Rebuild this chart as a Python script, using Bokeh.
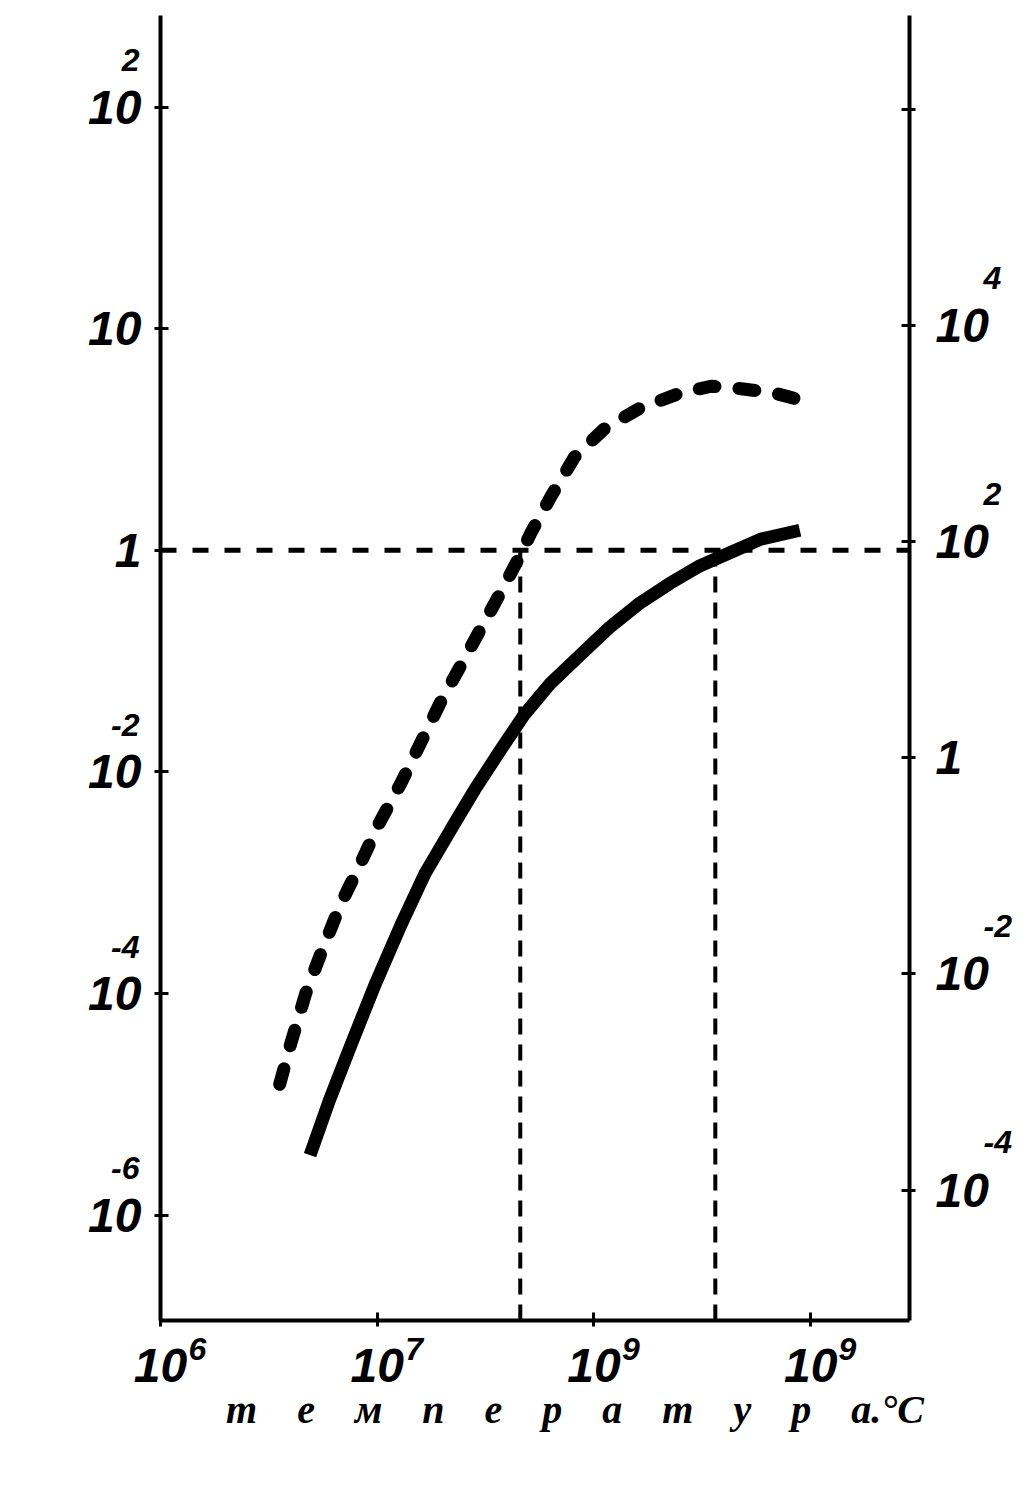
from bokeh.plotting import figure
from bokeh.models import Range1d, LinearAxis, FixedTicker
from bokeh.embed import file_html
from bokeh.resources import INLINE

# x: decade positions of temperature (°C); y: hand-drawn equally spaced decade positions
x_ticks = [6, 7, 8, 9]
x_bases = ["10", "10", "10", "10"]
x_exps = ["6", "7", "9", "9"]

left_ticks = [0, 1, 2, 3, 4, 5]
left_bases = ["10", "10", "10", "1", "10", "10"]
left_exps = ["-6", "-4", "-2", "", "", "2"]

right_ticks = [0, 1, 2, 3, 4, 5]
right_bases = ["10", "10", "1", "10", "10", ""]
right_exps = ["-4", "-2", "", "2", "4", ""]

dashed_x = [6.55, 6.60, 6.67, 6.74, 6.83, 6.92, 7.01, 7.11, 7.20, 7.29, 7.38, 7.48,
            7.57, 7.64, 7.71, 7.80, 7.91, 8.05, 8.21, 8.40, 8.54, 8.67, 8.83, 9.02]
dashed_y = [0.59, 0.77, 1.00, 1.18, 1.40, 1.58, 1.77, 1.95, 2.13, 2.31, 2.47, 2.65,
            2.81, 2.94, 3.08, 3.24, 3.42, 3.55, 3.64, 3.71, 3.74, 3.73, 3.71, 3.66]

solid_x = [6.69, 6.78, 6.88, 6.99, 7.11, 7.22, 7.34, 7.45, 7.57, 7.68, 7.80, 7.94,
           8.07, 8.21, 8.35, 8.49, 8.63, 8.77, 8.95]
solid_y = [0.27, 0.52, 0.77, 1.04, 1.31, 1.54, 1.74, 1.92, 2.10, 2.26, 2.40, 2.53,
           2.65, 2.76, 2.85, 2.93, 2.99, 3.05, 3.09]

ref_level = 3.0
ref_x = [7.66, 8.56]

X0, X1 = 6.0, 9.456
Y0, Y1 = -0.476, 5.413
R0, R1 = -0.604, 5.437

# exponent label placement: ranges shifted so exponents sit up/right of their "10"
LEXP_SHIFT = 0.21
REXP_SHIFT = 0.22
XEXP_SHIFT = 0.17

NUM_FONT = "Liberation Sans"
TXT_FONT = "Liberation Serif"

p = figure(width=1014, height=1472, output_backend="svg", toolbar_location=None,
           x_range=Range1d(X0, X1), y_range=Range1d(Y0, Y1),
           min_border_left=160, min_border_right=104, min_border_top=15, min_border_bottom=152,
           x_axis_location=None, y_axis_location=None)
p.outline_line_color = None
p.grid.visible = False
p.background_fill_color = "white"
p.border_fill_color = "white"
p.extra_y_ranges = {"right": Range1d(R0, R1),
                    "lexp": Range1d(Y0 - LEXP_SHIFT, Y1 - LEXP_SHIFT),
                    "rexp": Range1d(R0 - REXP_SHIFT, R1 - REXP_SHIFT)}
p.extra_x_ranges = {"xexp": Range1d(X0 - XEXP_SHIFT, X1 - XEXP_SHIFT)}


def style_axis(ax, standoff, size="48px"):
    ax.axis_line_width = 4
    ax.axis_line_color = "black"
    ax.major_tick_line_width = 3
    ax.major_tick_line_color = "black"
    ax.major_tick_in = 8
    ax.major_tick_out = 6
    ax.minor_tick_line_color = None
    ax.major_label_text_font = NUM_FONT
    ax.major_label_text_font_style = "bold italic"
    ax.major_label_text_font_size = size
    ax.major_label_text_color = "black"
    ax.major_label_standoff = standoff


def exp_axis(ax, standoff):
    style_axis(ax, standoff, "32px")
    ax.axis_line_color = None
    ax.major_tick_line_color = None
    ax.major_tick_in = 0
    ax.major_tick_out = 0


def pick(ticks, texts):
    return [t for t, s in zip(ticks, texts) if s], {t: s for t, s in zip(ticks, texts) if s}


# bottom: bases + title, then exponents
xax = LinearAxis(ticker=FixedTicker(ticks=x_ticks),
                 major_label_overrides={t: b for t, b in zip(x_ticks, x_bases)})
style_axis(xax, 22)
xax.axis_label = "\u2003\u2003" + "\u2003".join(list("температура")) + ".°C"
xax.axis_label_text_font = TXT_FONT
xax.axis_label_text_font_style = "bold italic"
xax.axis_label_text_font_size = "40px"
xax.axis_label_text_color = "black"
xax.axis_label_standoff = 2
p.add_layout(xax, "below")

xt, xo = pick(x_ticks, x_exps)
xexp = LinearAxis(x_range_name="xexp", ticker=FixedTicker(ticks=xt), major_label_overrides=xo)
exp_axis(xexp, -97)
p.add_layout(xexp, "below")

# left: bases, then exponents
lax = LinearAxis(ticker=FixedTicker(ticks=left_ticks),
                 major_label_overrides={t: b for t, b in zip(left_ticks, left_bases)})
style_axis(lax, 13)
p.add_layout(lax, "left")

lt, lo = pick(left_ticks, left_exps)
lexp = LinearAxis(y_range_name="lexp", ticker=FixedTicker(ticks=lt), major_label_overrides=lo)
exp_axis(lexp, -54)
p.add_layout(lexp, "left")

# right: bases, then exponents
rax = LinearAxis(y_range_name="right", ticker=FixedTicker(ticks=right_ticks),
                 major_label_overrides={t: b for t, b in zip(right_ticks, right_bases)})
style_axis(rax, 20)
p.add_layout(rax, "right")

rt, ro = pick(right_ticks, right_exps)
rexp = LinearAxis(y_range_name="rexp", ticker=FixedTicker(ticks=rt), major_label_overrides=ro)
exp_axis(rexp, -8)
p.add_layout(rexp, "right")

# curves
p.line(dashed_x, dashed_y, line_color="black", line_width=13, line_dash="16 24", line_cap="round")
p.line(solid_x, solid_y, line_color="black", line_width=13)

# reference dashed lines
p.line([X0, X1], [ref_level, ref_level], line_color="black", line_width=5, line_dash="16 16")
for xv in ref_x:
    p.line([xv, xv], [Y0, ref_level], line_color="black", line_width=4, line_dash="16 10")

open("out.html", "w").write(file_html(p, INLINE))
